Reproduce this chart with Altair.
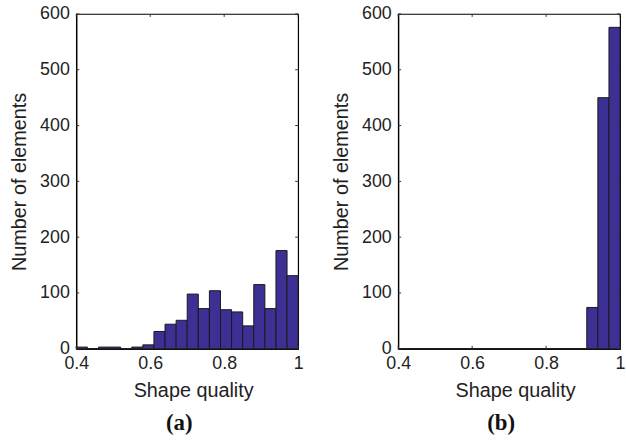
import altair as alt
import pandas as pd

# Histogram bin edges (shape quality)
bin_edges = [0.40, 0.43, 0.46, 0.49, 0.52, 0.55, 0.58, 0.61, 0.64, 0.67, 0.70,
             0.73, 0.76, 0.79, 0.82, 0.85, 0.88, 0.91, 0.94, 0.97, 1.00]
# Panel (a) counts per bin
counts_a = [3, 0, 3, 3, 0, 3, 7, 31, 44, 51, 98, 72, 104, 70, 66, 41, 115, 72, 176, 131]
# Panel (b) counts per bin
counts_b = [0, 0, 0, 0, 0, 0, 0, 0, 0, 0, 0, 0, 0, 0, 0, 0, 0, 74, 450, 576]

x_ticks = [0.4, 0.6, 0.8, 1.0]
y_ticks = [0, 100, 200, 300, 400, 500, 600]
panel_labels = ["(a)", "(b)"]

W, H = 224, 338
TICK = 3
BAR = "#3c3094"
FONT = "Liberation Sans"


def panel(counts, label):
    df = pd.DataFrame({"lo": bin_edges[:-1], "hi": bin_edges[1:], "n": counts})
    xs = alt.Scale(domain=[0.4, 1.0], nice=False, zero=False)
    ys = alt.Scale(domain=[0, 600], nice=False)
    xax = alt.Axis(values=x_ticks, format="~g", title="Shape quality",
                   titleX=W / 2 + 6, labelFlush=False)
    yax = alt.Axis(values=y_ticks, format="d", title="Number of elements",
                   labelFlush=False)
    bars = alt.Chart(df).mark_rect(fill=BAR, stroke="#1a1a1a", strokeWidth=1).encode(
        x=alt.X("lo:Q", scale=xs, axis=xax),
        x2="hi:Q",
        y=alt.Y("n:Q", scale=ys, axis=yax),
        y2=alt.datum(0),
    )
    xt = pd.DataFrame({"t": x_ticks})
    yt = pd.DataFrame({"t": y_ticks})
    xb = alt.Chart(xt).mark_rule(color="#333", strokeWidth=1).encode(
        x=alt.X("t:Q", scale=xs, axis=xax), y=alt.value(H), y2=alt.value(H - TICK))
    xtop = alt.Chart(xt).mark_rule(color="#333", strokeWidth=1).encode(
        x=alt.X("t:Q", scale=xs, axis=xax), y=alt.value(0), y2=alt.value(TICK))
    yl = alt.Chart(yt).mark_rule(color="#333", strokeWidth=1).encode(
        y=alt.Y("t:Q", scale=ys, axis=yax), x=alt.value(0), x2=alt.value(TICK))
    yr = alt.Chart(yt).mark_rule(color="#333", strokeWidth=1).encode(
        y=alt.Y("t:Q", scale=ys, axis=yax), x=alt.value(W - TICK), x2=alt.value(W))
    return alt.layer(bars, xb, xtop, yl, yr).properties(
        width=W, height=H,
        title=alt.TitleParams(label, orient="bottom", font="Liberation Serif",
                              fontSize=23, fontWeight="bold", color="#111",
                              anchor="middle", dx=-8, offset=12),
    )


chart = alt.hconcat(panel(counts_a, panel_labels[0]), panel(counts_b, panel_labels[1]),
                    spacing=27).properties(
    padding={"left": 9, "top": 2, "right": 0, "bottom": 0},
).configure_view(stroke="#000", strokeWidth=1.2).configure_axis(
    labelFont=FONT, labelFontSize=18, labelColor="#222",
    titleFont=FONT, titleFontSize=20, titleFontWeight="normal", titleColor="#222",
    domainColor="#000", domainWidth=1.2, ticks=False, grid=False,
    labelPadding=7,
).configure_axisY(titlePadding=10).configure_axisX(labelPadding=6, titlePadding=8)

chart.save("out.html", embed_options={"renderer": "svg", "actions": False})
